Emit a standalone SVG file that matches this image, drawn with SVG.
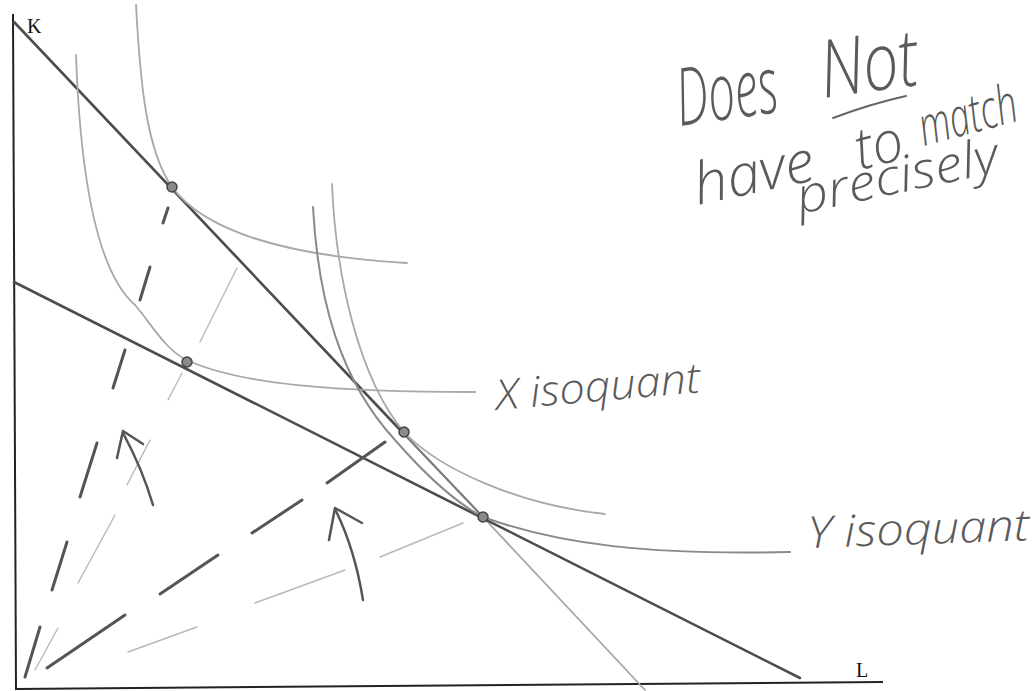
<svg xmlns="http://www.w3.org/2000/svg" width="1032" height="691" viewBox="0 0 1032 691">
<style>
.axis{stroke:#222;stroke-width:2;fill:none}
.iso{stroke:#4d4d4d;stroke-width:2.6;fill:none;stroke-linecap:round}
.isom{stroke:#7a7a7a;stroke-width:2.2;fill:none;stroke-linecap:round}
.isol{stroke:#a5a5a5;stroke-width:1.8;fill:none;stroke-linecap:round}
.curve{stroke:#a8a8a8;stroke-width:1.8;fill:none;stroke-linecap:round;stroke-linejoin:round}
.curved{stroke:#8a8a8a;stroke-width:2;fill:none;stroke-linecap:round}
.dash{stroke:#555;stroke-width:3;stroke-linecap:round}
.ldash{stroke:#b8b8b8;stroke-width:1.4;stroke-linecap:round}
.pt{fill:#8a8a8a;stroke:#444;stroke-width:1.5}
.arrow{stroke:#555;stroke-width:2.5;fill:none;stroke-linecap:round;stroke-linejoin:round}
.axlbl{font-family:"Liberation Serif",serif;font-size:20px;fill:#111}
.hand{font-family:"Open Sans","DejaVu Sans",sans-serif;font-weight:300;font-style:italic;fill:#5a5a5a}
</style>
<g id="axes">
<path class="axis" d="M13,14 L16,690"/>
<path class="axis" d="M16,689 L883,682"/>
<text class="axlbl" x="27" y="33">K</text>
<text class="axlbl" x="856" y="677">L</text>
</g>
<g id="isocost-steep">
<path class="iso" d="M14,22 L404,434"/>
<path class="isom" d="M404,434 L483,517"/>
<path class="isol" d="M483,517 L645,690"/>
</g>
<g id="isocost-flat">
<path class="iso" d="M14,282 L800,678"/>
</g>
<g id="isoquant-upper">
<path class="curve" d="M136,5 C140,80 146,150 172,187 C200,225 270,255 407,263"/>
</g>
<g id="x-isoquant">
<path class="curve" d="M76,55 C80,170 95,270 135,305 C150,322 165,350 187,360 C240,385 340,392 475,392"/>
<text class="hand" font-size="42" transform="translate(497,410) rotate(-5)" textLength="205" lengthAdjust="spacingAndGlyphs">X isoquant</text>
</g>
<g id="y-isoquant-upper">
<path class="curve" d="M332,184 C336,280 360,380 404,432 C440,470 520,505 605,514"/>
</g>
<g id="y-isoquant">
<path class="curved" d="M313,207 C318,300 340,380 395,440 C430,480 460,505 483,517 C560,545 650,555 790,552"/>
<text class="hand" font-size="44" transform="translate(808,548) rotate(-2)" textLength="222" lengthAdjust="spacingAndGlyphs">Y isoquant</text>
</g>
<g id="tangent-points">
<circle class="pt" cx="172" cy="187" r="5"/>
<circle class="pt" cx="187" cy="362" r="5"/>
<circle class="pt" cx="404" cy="432" r="5"/>
<circle class="pt" cx="483" cy="517" r="5"/>
</g>
<g id="rays">
<line class="dash" x1="25" y1="677" x2="40" y2="627"/>
<line class="dash" x1="52" y1="590" x2="67" y2="542"/>
<line class="dash" x1="80" y1="497" x2="97" y2="443"/>
<line class="dash" x1="113" y1="388" x2="125" y2="350"/>
<line class="dash" x1="140" y1="300" x2="150" y2="267"/>
<line class="dash" x1="163" y1="223" x2="168" y2="208"/>
<line class="dash" x1="47" y1="668" x2="125" y2="615"/>
<line class="dash" x1="160" y1="594" x2="218" y2="555"/>
<line class="dash" x1="252" y1="533" x2="302" y2="500"/>
<line class="dash" x1="327" y1="483" x2="385" y2="442"/>
<line class="ldash" x1="35" y1="670" x2="58" y2="628"/>
<line class="ldash" x1="78" y1="583" x2="115" y2="515"/>
<line class="ldash" x1="127" y1="485" x2="150" y2="440"/>
<line class="ldash" x1="168" y1="400" x2="182" y2="373"/>
<line class="ldash" x1="200" y1="342" x2="237" y2="268"/>
<line class="ldash" x1="128" y1="652" x2="197" y2="627"/>
<line class="ldash" x1="255" y1="603" x2="345" y2="570"/>
<line class="ldash" x1="380" y1="557" x2="463" y2="523"/>
</g>
<g id="arrows">
<path class="arrow" d="M153,505 Q142,468 123,433"/>
<path class="arrow" d="M117,458 L123,431 L143,444"/>
<path class="arrow" d="M363,600 Q355,550 336,511"/>
<path class="arrow" d="M329,540 L335,508 L362,523"/>
</g>
<g id="note">
<text class="hand" font-size="80" transform="translate(680,126) rotate(-8)" textLength="102" lengthAdjust="spacingAndGlyphs">Does</text>
<text class="hand" font-size="80" transform="translate(824,98) rotate(-8)" textLength="98" lengthAdjust="spacingAndGlyphs">Not</text>
<path d="M833,118 Q870,104 906,96" stroke="#666" stroke-width="2" fill="none" stroke-linecap="round"/>
<text class="hand" font-size="58" transform="translate(698,205) rotate(-12)" textLength="122" lengthAdjust="spacingAndGlyphs">have</text>
<text class="hand" font-size="58" transform="translate(860,170) rotate(-14)" textLength="48" lengthAdjust="spacingAndGlyphs">to</text>
<text class="hand" font-size="54" transform="translate(924,146) rotate(-15)" textLength="100" lengthAdjust="spacingAndGlyphs">match</text>
<text class="hand" font-size="50" transform="translate(800,214) rotate(-12)" textLength="205" lengthAdjust="spacingAndGlyphs">precisely</text>
</g>
</svg>
